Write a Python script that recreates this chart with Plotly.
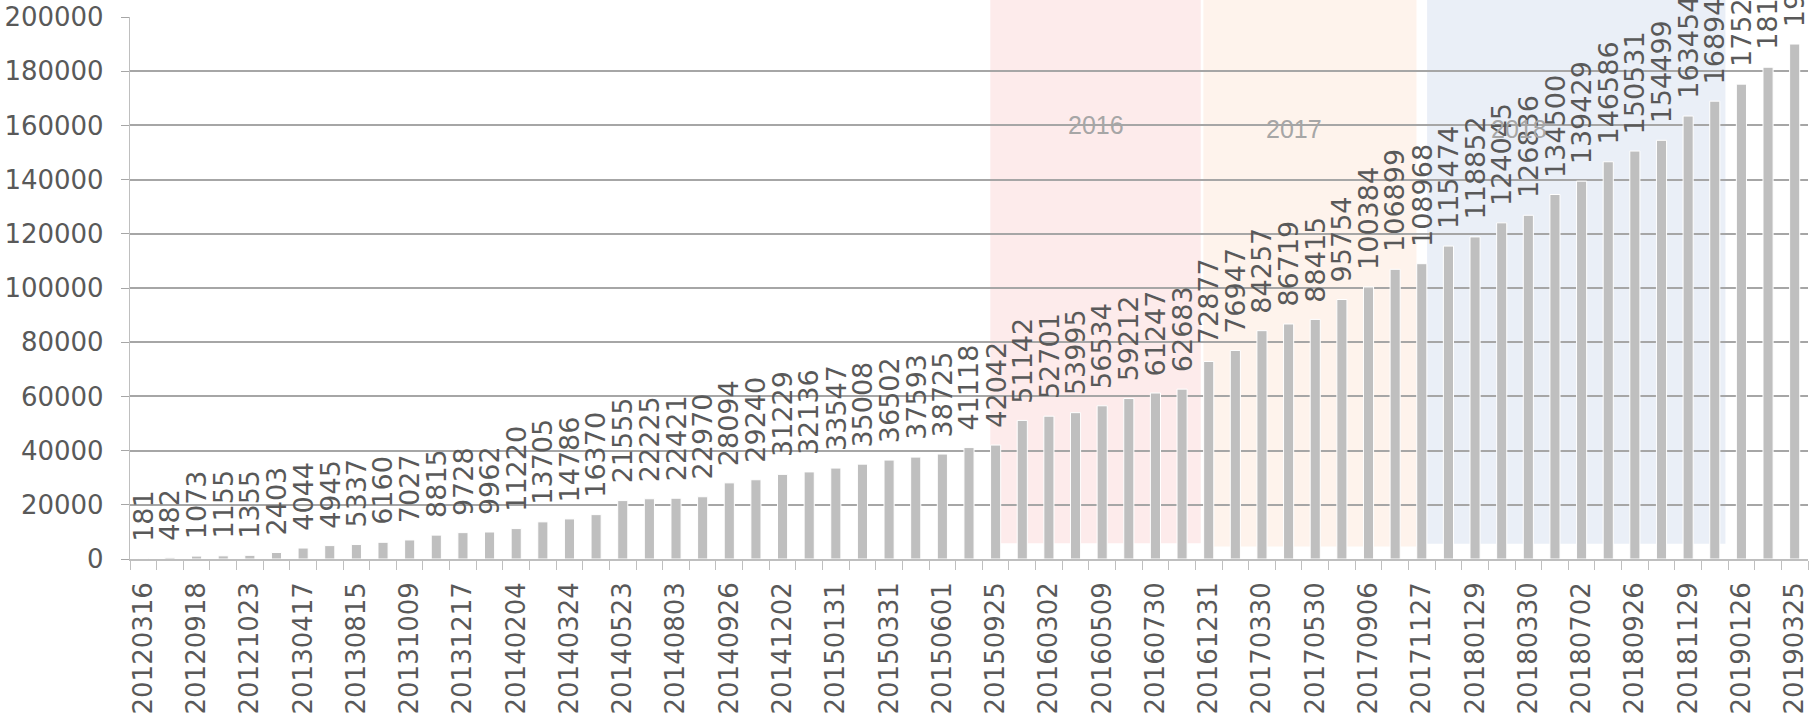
import plotly.graph_objects as go

# Dates shown under every other bar (bars 0, 2, 4, ...)
tick_dates = [
    "20120316", "20120918", "20121023", "20130417", "20130815", "20131009",
    "20131217", "20140204", "20140324", "20140523", "20140803", "20140926",
    "20141202", "20150131", "20150331", "20150601", "20150925", "20160302",
    "20160509", "20160730", "20161231", "20170330", "20170530", "20170906",
    "20171127", "20180129", "20180330", "20180702", "20180926", "20181129",
    "20190126", "20190325",
]

# Cumulative totals, one per bar
totals = [
    181, 482, 1073, 1155, 1355, 2403, 4044, 4945, 5337, 6160,
    7027, 8815, 9728, 9962, 11220, 13705, 14786, 16370, 21555, 22225,
    22421, 22970, 28094, 29240, 31229, 32136, 33547, 35008, 36502, 37593,
    38725, 41118, 42042, 51142, 52701, 53995, 56534, 59212, 61247, 62683,
    72877, 76947, 84257, 86719, 88415, 95754, 100384, 106899, 108968, 115474,
    118852, 124045, 126836, 134500, 139429, 146586, 150531, 154499, 163454, 168944,
    175226, 181460, 190021,
]

# Year bands: label, first bar edge, last bar edge (in bar-index units)
year_names = ["2016", "2017", "2018"]
band_start = [31.8, 39.8, 48.2]
band_end = [39.7, 47.8, 59.4]

positions = list(range(len(totals)))
tick_positions = positions[::2]

TEXT = "#595959"
GRID = "#a6a6a6"
AXIS = "#bfbfbf"

fig = go.Figure()
fig.add_trace(go.Bar(
    x=positions,
    y=totals,
    marker=dict(color="#bfbfbf", line=dict(color="white", width=1)),
    hoverinfo="x+y",
    showlegend=False,
))

# value labels, rotated, sitting above each bar
for xp, v in zip(positions, totals):
    fig.add_annotation(
        x=xp, y=v, text=str(v), textangle=-90,
        showarrow=False, xanchor="center", yanchor="bottom", yshift=15,
        font=dict(family="DejaVu Sans", size=27, color=TEXT),
    )

# shaded year bands behind the bars
band_fill = ["#fdebeb", "#fef3ec", "#eaeff7"]
band_bottom = [0.029, 0.023, 0.028]
label_y = [160000, 158500, 158500]
label_x = [35.75, 43.2, 51.66]
for name, x0, x1, fill, yb, lx, ly in zip(year_names, band_start, band_end,
                                          band_fill, band_bottom, label_x, label_y):
    fig.add_shape(
        type="rect", xref="x", yref="paper", x0=x0, x1=x1, y0=yb, y1=1.3,
        fillcolor=fill, line=dict(width=0), layer="below",
    )
    fig.add_annotation(
        x=lx, y=ly, text=name, showarrow=False,
        font=dict(family="Liberation Sans", size=25, color="#a6a6a6"),
    )

fig.update_layout(
    width=1811, height=716,
    margin=dict(l=130, r=2, t=15, b=154),
    paper_bgcolor="white", plot_bgcolor="white",
    bargap=0.62,
    font=dict(family="DejaVu Sans", color=TEXT),
)

fig.update_xaxes(
    range=[-0.5, len(totals) - 0.5],
    tickmode="array", tickvals=tick_positions, ticktext=tick_dates,
    tickangle=-90, tickfont=dict(family="DejaVu Sans", size=26, color=TEXT),
    ticks="outside", ticklen=9, tickcolor="rgba(0,0,0,0)",
    ticklabelstandoff=2,
    minor=dict(tickmode="linear", tick0=-0.5, dtick=1, ticks="outside",
               ticklen=9, tickwidth=1.3, tickcolor=AXIS, showgrid=False),
    showline=True, linecolor=AXIS, linewidth=1.5,
    showgrid=False, zeroline=False,
)

fig.update_yaxes(
    range=[0, 200000], dtick=20000, tickformat="d",
    tickfont=dict(family="DejaVu Sans", size=26, color=TEXT),
    ticks="outside", ticklen=8, tickcolor=GRID, tickwidth=1.3,
    ticklabelstandoff=12,
    showgrid=True, gridcolor=GRID, gridwidth=1.5,
    showline=True, linecolor=AXIS, linewidth=1.3,
    zeroline=False,
)

fig.write_html("out.html")
